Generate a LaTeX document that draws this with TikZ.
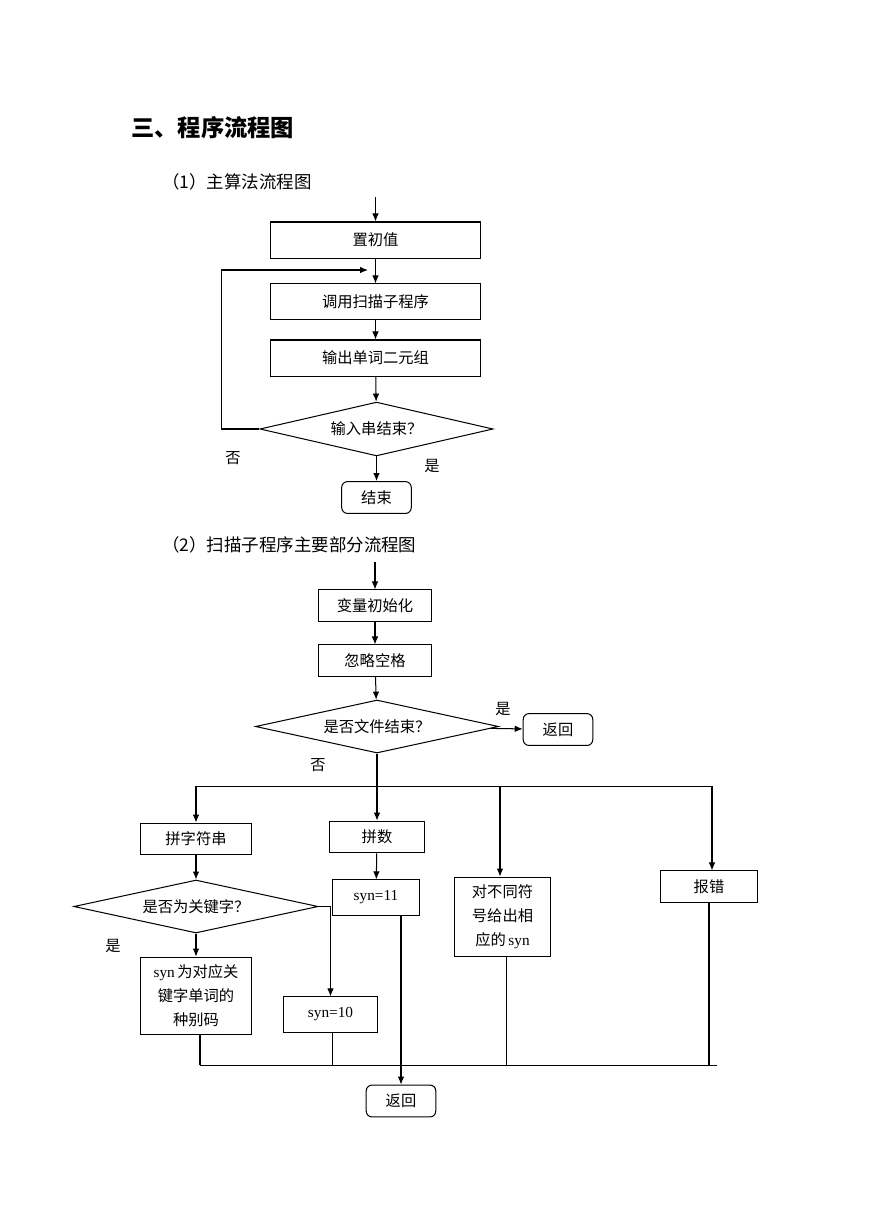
\documentclass[tikz,border=0pt]{standalone}
\usepackage{fontspec}
\setmainfont{Liberation Serif}
\newfontfamily\cjk{Noto Sans CJK SC}
\newcommand\en[1]{{\rmfamily #1}}
\usetikzlibrary{shapes,arrows,arrows.meta,calc,positioning}

\begin{document}
\begin{tikzpicture}[x=0.02416cm, y=-0.02416cm, >={Latex[length=5.5pt,width=4.5pt]},
  block/.style={rectangle, draw, line width=0.7pt, align=center, inner sep=1pt,
    font=\cjk\fontsize{10.5}{16.5}\selectfont},
  endblock/.style={block, rounded corners=4pt, minimum width=1.68cm, minimum height=0.77cm},
  decision/.style={diamond, draw, line width=0.7pt, aspect=4, inner sep=0pt,
    font=\cjk\fontsize{10.5}{16.5}\selectfont},
  tag/.style={font=\cjk\fontsize{10.5}{12}\selectfont, inner sep=0pt},
  line/.style={line width=0.7pt},
  arrow/.style={line width=0.7pt, ->}
  ]
  \useasboundingbox (0,0) rectangle (869,1228);

  % headings
  \node[anchor=west, inner sep=0pt, font=\cjk\bfseries\fontsize{16}{18}\selectfont] (title) at (131,128) {三、程序流程图};
  \node[anchor=west, inner sep=0pt, font=\cjk\fontsize{12}{14}\selectfont] (sub1) at (162,182) {（1）主算法流程图};
  \node[anchor=west, inner sep=0pt, font=\cjk\fontsize{12}{14}\selectfont] (sub2) at (162,545) {（2）扫描子程序主要部分流程图};

  % main algorithm
  \coordinate (start1) at (375.5,197);
  \node[block, minimum width=5.05cm, minimum height=0.87cm] (init) at (375.5,240) {置初值};
  \node[block, minimum width=5.05cm, minimum height=0.85cm] (call) at (375.5,301.5) {调用扫描子程序};
  \node[block, minimum width=5.05cm, minimum height=0.87cm] (output) at (375.5,358) {输出单词二元组};
  \node[decision, minimum width=5.63cm, minimum height=1.30cm] (done) at (376.5,429) {输入串结束？};
  \node[endblock] (finish) at (376.5,497.5) {结束};
  \coordinate (loopin) at (368,270);

  \draw[arrow] (start1) -- (init);
  \draw[arrow] (init) -- (call);
  \draw[arrow] (call) -- (output);
  \draw[arrow] (output) -- (done);
  \draw[arrow] (done) -- (finish);
  \draw[arrow] (done.west) -- ++(-38,0) |- (loopin);

  \node[tag] (no1) at (233,458) {否};
  \node[tag] (yes1) at (432,466) {是};

  % scanner
  \coordinate (start2) at (375,562);
  \node[block, minimum width=2.71cm, minimum height=0.75cm] (vars) at (375,605.5) {变量初始化};
  \node[block, minimum width=2.71cm, minimum height=0.75cm] (skip) at (375,660.5) {忽略空格};
  \node[decision, minimum width=5.87cm, minimum height=1.28cm] (eof) at (377,726.5) {是否文件结束？};
  \node[endblock] (ret1) at (558,729.5) {返回};

  \draw[arrow] (start2) -- (vars);
  \draw[arrow] (vars) -- (skip);
  \draw[arrow] (skip) -- (eof);
  \draw[arrow] (eof) -- (ret1);

  \node[tag] (yes2) at (503,709) {是};
  \node[tag] (no2) at (318,765) {否};

  \node[block, minimum width=2.68cm, minimum height=0.77cm] (word) at (196,839) {拼字符串};
  \node[block, minimum width=2.30cm, minimum height=0.77cm] (digits) at (377,837) {拼数};
  \node[block, minimum width=2.30cm, minimum height=1.93cm] (symbol) at (502.5,917) {对不同符\\号给出相\\应的\,\en{syn}};
  \node[block, minimum width=2.32cm, minimum height=0.75cm] (error) at (709,886.5) {报错};
  \node[decision, minimum width=5.90cm, minimum height=1.28cm] (keyword) at (196,906.5) {是否为关键字？};
  \node[block, minimum width=2.08cm, minimum height=0.85cm] (syn11) at (376,897.5) {\en{syn=11}};
  \node[block, minimum width=2.68cm, minimum height=1.88cm] (kwcode) at (196,996) {\en{syn}\,为对应关\\键字单词的\\种别码};
  \node[block, minimum width=2.25cm, minimum height=0.85cm] (syn10) at (330.5,1014.5) {\en{syn=10}};
  \node[endblock] (ret2) at (401,1101) {返回};

  \node[tag] (yes3) at (113,946) {是};

  % branches
  \coordinate (fork) at (377,786);
  \coordinate (forkl) at (196,786);
  \coordinate (forkr) at (712,786);
  \coordinate (forks) at (500,786);
  \draw[line] (eof.south) -- (fork);
  \draw[line] (forkl) -- (forkr);
  \draw[arrow] (forkl) -- (word);
  \draw[arrow] (fork) -- (digits);
  \draw[arrow] (forks) -- (forks |- symbol.north);
  \draw[arrow] (forkr) -- (forkr |- error.north);

  \draw[arrow] (word) -- (keyword);
  \draw[arrow] (keyword) -- (kwcode);
  \draw[arrow] (keyword.east) -| (syn10.north);
  \draw[arrow] (digits) -- (syn11);
  \draw[arrow] (ret2.north |- syn11.south) -- (ret2.north);

  % merge
  \coordinate (joinl) at (200,1065);
  \coordinate (joinr) at (717,1065);
  \draw[line] (joinl |- kwcode.south) -- (joinl);
  \draw[line] ([xshift=1.5]syn10.south) -- ([xshift=1.5]syn10.south |- joinl);
  \draw[line] ([xshift=2.5]symbol.south) -- ([xshift=2.5]symbol.south |- joinl);
  \draw[line] (error.south) -- (error.south |- joinl);
  \draw[line] (joinl) -- (joinr);

\end{tikzpicture}
\end{document}
